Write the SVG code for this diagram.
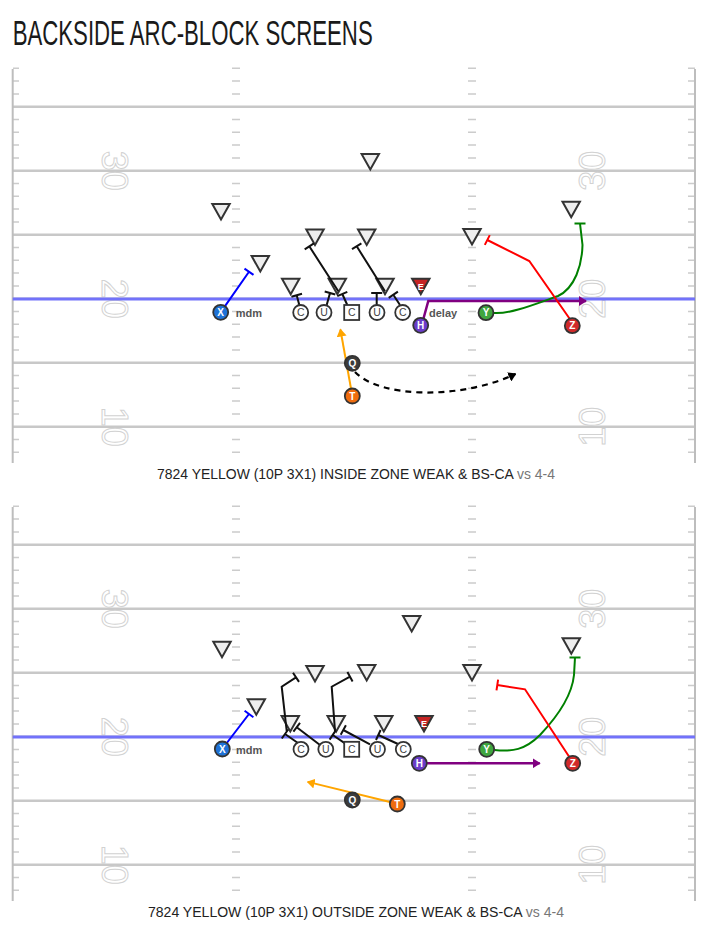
<svg xmlns="http://www.w3.org/2000/svg" xmlns:xlink="http://www.w3.org/1999/xlink" width="706" height="933" viewBox="0 0 706 933">
<style>
.sl{stroke:#bdbdbd;stroke-width:2}
.yl{stroke:#c8c8c8;stroke-width:2.5}
.los{stroke:#7272fa;stroke-width:3}
.tk{stroke:#cccccc;stroke-dasharray:1.5 11.3}
.num{font-family:"Liberation Sans",Arial,sans-serif;font-size:36px;fill:#fff;stroke:#d2d2d2;stroke-width:1;text-anchor:middle;dominant-baseline:central}
.def{fill:#eeeeee;stroke:#333;stroke-width:2}
.dE{fill:#c62424;stroke:#333;stroke-width:2}
.et{font-family:"Liberation Sans",Arial,sans-serif;font-size:9px;font-weight:bold;fill:#fff;text-anchor:middle}
.ol{fill:#fff;stroke:#333;stroke-width:1.8}
.olt{font-family:"Liberation Sans",Arial,sans-serif;font-size:10.5px;fill:#444;text-anchor:middle}
.pl{stroke:#333;stroke-width:1.8}
.pt{font-family:"Liberation Sans",Arial,sans-serif;font-size:10px;font-weight:bold;fill:#fff;text-anchor:middle}
.blk{stroke:#111;stroke-width:2;fill:none}
.lbl{font-family:"Liberation Sans",Arial,sans-serif;font-size:11px;font-weight:bold;fill:#555}
.cap{font-family:"Liberation Sans",Arial,sans-serif;font-size:14px;fill:#222}
.rb{stroke:#0000ff;stroke-width:2;fill:none}
.rp{stroke:#800080;stroke-width:2.5;fill:none}
.rg{stroke:#008000;stroke-width:2;fill:none}
.rr{stroke:#ff0000;stroke-width:2;fill:none}
.ro{stroke:#ffa500;stroke-width:2;fill:none}
.rk{stroke:#000;stroke-width:2.2;fill:none;stroke-dasharray:6 5}
</style>
<defs>
<marker id="arP" viewBox="0 0 8 10" refX="7" refY="5" markerWidth="8" markerHeight="10" markerUnits="userSpaceOnUse" orient="auto"><path d="M0,0L8,5L0,10z" fill="#800080"/></marker>
<marker id="arO" viewBox="0 0 8 10" refX="7" refY="5" markerWidth="8" markerHeight="10" markerUnits="userSpaceOnUse" orient="auto"><path d="M0,0L8,5L0,10z" fill="#ffa500"/></marker>
<marker id="arK" viewBox="0 0 8 10" refX="7" refY="5" markerWidth="8" markerHeight="10" markerUnits="userSpaceOnUse" orient="auto"><path d="M0,0L8,5L0,10z" fill="#000"/></marker>
<g id="field">
<line class="tk" x1="16" y1="67.55" x2="16" y2="453.1" stroke-width="6"/>
<line class="tk" x1="236" y1="67.55" x2="236" y2="453.1" stroke-width="8"/>
<line class="tk" x1="472" y1="67.55" x2="472" y2="453.1" stroke-width="8"/>
<line class="tk" x1="691.5" y1="67.55" x2="691.5" y2="453.1" stroke-width="7"/>
<line class="yl" x1="12.7" y1="106.7" x2="695" y2="106.7"/>
<line class="yl" x1="12.7" y1="170.7" x2="695" y2="170.7"/>
<line class="yl" x1="12.7" y1="234.7" x2="695" y2="234.7"/>
<line class="yl" x1="12.7" y1="298.7" x2="695" y2="298.7"/>
<line class="yl" x1="12.7" y1="362.7" x2="695" y2="362.7"/>
<line class="yl" x1="12.7" y1="426.7" x2="695" y2="426.7"/>
<line class="sl" x1="12.7" y1="69" x2="12.7" y2="463"/>
<line class="sl" x1="695" y1="69" x2="695" y2="463"/>
<text class="num" transform="translate(114.5,170.7) rotate(90)">30</text>
<text class="num" transform="translate(114.5,298.7) rotate(90)">20</text>
<text class="num" transform="translate(114.5,426.7) rotate(90)">10</text>
<text class="num" transform="translate(592.5,170.7) rotate(-90)">30</text>
<text class="num" transform="translate(592.5,298.7) rotate(-90)">20</text>
<text class="num" transform="translate(592.5,426.7) rotate(-90)">10</text>
<line class="los" x1="12.7" y1="298.9" x2="695" y2="298.9"/>
</g>
</defs>

<text id="title" x="12.7" y="44.5" font-family="'Liberation Sans',Arial,sans-serif" font-size="35" fill="#1a1a1a" textLength="360" lengthAdjust="spacingAndGlyphs">BACKSIDE ARC-BLOCK SCREENS</text>

<!-- ================= FIELD 1 ================= -->
<use id="field1" xlink:href="#field" href="#field"/>

<g id="f1-defense">
<g id="f1-d-top"><polygon class="def" points="361.6,154 379,154 370.3,169.5"/></g>
<g id="f1-d-left"><polygon class="def" points="212.3,204 229.7,204 221,219.5"/></g>
<g id="f1-d-x"><polygon class="def" points="251.6,256 269,256 260.3,271.5"/></g>
<g id="f1-lb1"><polygon class="def" points="306.3,229.5 323.7,229.5 315,245"/></g>
<g id="f1-lb2"><polygon class="def" points="358,229.5 375.4,229.5 366.7,245"/></g>
<g id="f1-dt1"><polygon class="def" points="282,278.7 299.4,278.7 290.7,294.2"/></g>
<g id="f1-dt2"><polygon class="def" points="328.6,278.7 346,278.7 337.3,294.2"/></g>
<g id="f1-dt3"><polygon class="def" points="376.3,278.7 393.7,278.7 385,294.2"/></g>
<g id="f1-e"><polygon class="dE" points="412.1,278.7 429.5,278.7 420.8,294.2"/><text class="et" x="420.8" y="290">E</text></g>
<g id="f1-d-hash"><polygon class="def" points="463.3,229 480.7,229 472,244.5"/></g>
<g id="f1-d-y"><polygon class="def" points="562.5,201.7 579.9,201.7 571.2,217.2"/></g>
</g>

<g id="f1-connectors">
<path class="rb" d="M225,306.1L249,271.7M253.5,274.9L244.5,268.6"/>
<path class="blk" d="M299.3,305L296.7,295.3M302,293.8L291.4,296.8"/>
<path class="blk" d="M326.7,305L330,293M335.3,294.5L324.7,291.5"/>
<path class="blk" d="M347.3,305L342.3,294M347.3,291.8L337.3,296.2"/>
<path class="blk" d="M338.3,291.3L309.3,246.3M313.9,243.3L304.7,249.3"/>
<path class="blk" d="M376.7,305L376.7,293M371.2,293L382.2,293"/>
<path class="blk" d="M400,305L393.3,294.7M397.9,291.6L388.7,297.8"/>
<path class="blk" d="M385,291.3L356.7,246.3M361.4,243.4L352,249.2"/>
<path class="rp" d="M423.5,318.5L428.3,301L586,301" marker-end="url(#arP)"/>
<path class="rg" d="M494,313C510,314 530,306 558,296C575,288 582,265 582.5,245L580,223.5M574.5,223.5L585.5,223.5"/>
<path class="rr" d="M569.5,318.5L529.3,261L487.3,240M489.8,235.1L484.8,244.9"/>
<path class="ro" d="M351,388.5L340.4,329.5" marker-end="url(#arO)"/>
<path class="rk" d="M355,372C380,398 460,400 515.5,374" marker-end="url(#arK)"/>
</g>

<g id="f1-offense">
<g id="f1-x"><circle class="pl" cx="220.7" cy="312.3" r="7.5" fill="#1f72d6"/><text class="pt" x="220.7" y="315.9">X</text></g>
<text id="f1-mdm" class="lbl" x="235.7" y="316.7">mdm</text>
<g id="f1-c1"><circle class="ol" cx="300.7" cy="312.5" r="7.5"/><text class="olt" x="300.7" y="316.2">C</text></g>
<g id="f1-u1"><circle class="ol" cx="324" cy="312.5" r="7.5"/><text class="olt" x="324" y="316.2">U</text></g>
<g id="f1-csq"><rect class="ol" x="344.2" y="305" width="15" height="15"/><text class="olt" x="351.7" y="316.2">C</text></g>
<g id="f1-u2"><circle class="ol" cx="377" cy="312.5" r="7.5"/><text class="olt" x="377" y="316.2">U</text></g>
<g id="f1-c2"><circle class="ol" cx="402.7" cy="312.5" r="7.5"/><text class="olt" x="402.7" y="316.2">C</text></g>
<g id="f1-h"><circle class="pl" cx="420.7" cy="325.3" r="7.5" fill="#6a3cc9"/><text class="pt" x="420.7" y="328.9">H</text></g>
<text id="f1-delay" class="lbl" x="429" y="316.7">delay</text>
<g id="f1-y"><circle class="pl" cx="486" cy="312.7" r="7.5" fill="#3fa63f"/><text class="pt" x="486" y="316.3">Y</text></g>
<g id="f1-z"><circle class="pl" cx="572.3" cy="325.7" r="7.5" fill="#d12a2a"/><text class="pt" x="572.3" y="329.3">Z</text></g>
<g id="f1-q"><circle class="pl" cx="352.3" cy="363.3" r="7.5" fill="#3c3c3c"/><text class="pt" x="352.3" y="366.9">Q</text></g>
<g id="f1-t"><circle class="pl" cx="352.3" cy="396" r="7.5" fill="#ef6c0e"/><text class="pt" x="352.3" y="399.6">T</text></g>
</g>

<text id="caption1" class="cap" x="356" y="478.5" text-anchor="middle" textLength="398" lengthAdjust="spacingAndGlyphs">7824 YELLOW (10P 3X1) INSIDE ZONE WEAK &amp; BS-CA <tspan fill="#777">vs 4-4</tspan></text>

<!-- ================= FIELD 2 ================= -->
<use id="field2" xlink:href="#field" href="#field" transform="translate(0,438)"/>

<g id="f2-defense">
<g id="f2-d-top"><polygon class="def" points="403,616 420.4,616 411.7,631.5"/></g>
<g id="f2-d-left"><polygon class="def" points="213.3,641.7 230.7,641.7 222,657.2"/></g>
<g id="f2-d-x"><polygon class="def" points="247.6,699.3 265,699.3 256.3,714.8"/></g>
<g id="f2-lb1"><polygon class="def" points="306.3,666 323.7,666 315,681.5"/></g>
<g id="f2-lb2"><polygon class="def" points="358,665 375.4,665 366.7,680.5"/></g>
<g id="f2-dt1"><polygon class="def" points="281.6,716 299,716 290.3,731.5"/></g>
<g id="f2-dt2"><polygon class="def" points="327.5,716 344.9,716 336.2,731.5"/></g>
<g id="f2-dt3"><polygon class="def" points="375.1,716 392.5,716 383.8,731.5"/></g>
<g id="f2-e"><polygon class="dE" points="415.3,716 432.7,716 424,731.5"/><text class="et" x="424" y="727.3">E</text></g>
<g id="f2-d-hash"><polygon class="def" points="463.3,665 480.7,665 472,680.5"/></g>
<g id="f2-d-y"><polygon class="def" points="562.6,638.3 580,638.3 571.3,653.8"/></g>
</g>

<g id="f2-connectors">
<path class="rb" d="M226.8,743L249,714M253.4,717.3L244.6,710.7"/>
<path class="blk" d="M298.3,743.3L285,734M288.2,729.5L281.8,738.5"/>
<path class="blk" d="M286.7,731L281.7,686.7L296,677.3M299,681.9L293,672.7"/>
<path class="blk" d="M320,745L296.7,727.3M300,722.9L293.4,731.7"/>
<path class="blk" d="M345,743.3L332.7,735M335.8,730.4L329.6,739.6"/>
<path class="blk" d="M335,731L331.7,686.7L350,676.7M352.6,681.5L347.4,671.9"/>
<path class="blk" d="M370,744.3L343.3,730M345.9,725.2L340.7,734.8"/>
<path class="blk" d="M398,744L378.3,735M380.6,730L376,740"/>
<path class="rp" d="M427,763.3L539.7,763.3" marker-end="url(#arP)"/>
<path class="rg" d="M494.5,750C512,752 525,750 540,735C558,716 572,695 574,675L575,657.5M569.5,657.5L580.5,657.5"/>
<path class="rr" d="M569,756.5L525,689.3L497.3,685M498.1,679.6L496.5,690.4"/>
<path class="ro" d="M390,802L307.7,781.9" marker-end="url(#arO)"/>
</g>

<g id="f2-offense">
<g id="f2-x"><circle class="pl" cx="222.3" cy="749" r="7.5" fill="#1f72d6"/><text class="pt" x="222.3" y="752.6">X</text></g>
<text id="f2-mdm" class="lbl" x="236" y="753.5">mdm</text>
<g id="f2-c1"><circle class="ol" cx="301" cy="749.3" r="7.5"/><text class="olt" x="301" y="753">C</text></g>
<g id="f2-u1"><circle class="ol" cx="325.8" cy="749.3" r="7.5"/><text class="olt" x="325.8" y="753">U</text></g>
<g id="f2-csq"><rect class="ol" x="344.2" y="741.8" width="15" height="15"/><text class="olt" x="351.7" y="753">C</text></g>
<g id="f2-u2"><circle class="ol" cx="377.5" cy="749.3" r="7.5"/><text class="olt" x="377.5" y="753">U</text></g>
<g id="f2-c2"><circle class="ol" cx="403.3" cy="749.3" r="7.5"/><text class="olt" x="403.3" y="753">C</text></g>
<g id="f2-h"><circle class="pl" cx="419.3" cy="763.3" r="7.5" fill="#6a3cc9"/><text class="pt" x="419.3" y="766.9">H</text></g>
<g id="f2-y"><circle class="pl" cx="486.7" cy="749.3" r="7.5" fill="#3fa63f"/><text class="pt" x="486.7" y="752.9">Y</text></g>
<g id="f2-z"><circle class="pl" cx="572.7" cy="763.3" r="7.5" fill="#d12a2a"/><text class="pt" x="572.7" y="766.9">Z</text></g>
<g id="f2-q"><circle class="pl" cx="352.3" cy="800" r="7.5" fill="#3c3c3c"/><text class="pt" x="352.3" y="803.6">Q</text></g>
<g id="f2-t"><circle class="pl" cx="397.3" cy="804" r="7.5" fill="#ef6c0e"/><text class="pt" x="397.3" y="807.6">T</text></g>
</g>

<text id="caption2" class="cap" x="356" y="916.5" text-anchor="middle" textLength="416" lengthAdjust="spacingAndGlyphs">7824 YELLOW (10P 3X1) OUTSIDE ZONE WEAK &amp; BS-CA <tspan fill="#777">vs 4-4</tspan></text>
</svg>
